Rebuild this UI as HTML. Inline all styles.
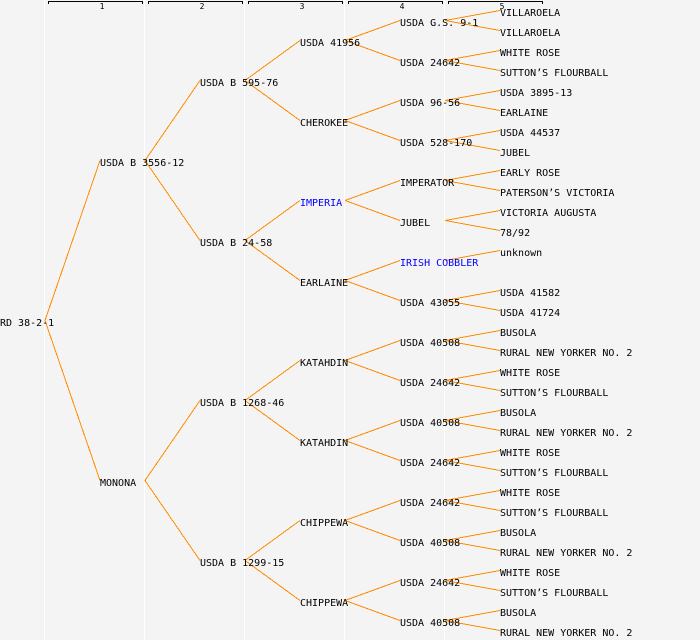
<!DOCTYPE html>
<html>
<head>
<meta charset="utf-8">
<style>
html,body{margin:0;padding:0;background:#f4f4f4;}
svg{display:block;}
text{font-family:"DejaVu Sans Mono","Liberation Mono",monospace;font-size:10px;fill:#000;}
.lb{font-size:8px;}
.b{fill:#0000ff;}
.ln line{stroke:#ff8c00;stroke-width:1;}
</style>
</head>
<body>
<svg width="700" height="640" viewBox="0 0 700 640" xmlns="http://www.w3.org/2000/svg">
<rect x="0" y="0" width="700" height="640" fill="#f4f4f4"/>
<g fill="#ffffff">
<rect x="44" y="0" width="1" height="640"/>
<rect x="144" y="0" width="1" height="640"/>
<rect x="244" y="0" width="1" height="640"/>
<rect x="344" y="0" width="1" height="640"/>
<rect x="444" y="0" width="1" height="640"/>
</g>
<g stroke="#000" stroke-width="1" fill="none" shape-rendering="crispEdges">
<path d="M48.5 4V1.5H142.5V4"/>
<path d="M148.5 4V1.5H242.5V4"/>
<path d="M248.5 4V1.5H342.5V4"/>
<path d="M348.5 4V1.5H442.5V4"/>
<path d="M448.5 4V1.5H542.5V4"/>
</g>
<g text-anchor="middle">
<text class="lb" x="102" y="9">1</text>
<text class="lb" x="202" y="9">2</text>
<text class="lb" x="302" y="9">3</text>
<text class="lb" x="402" y="9">4</text>
<text class="lb" x="502" y="9">5</text>
</g>
<g class="ln" shape-rendering="crispEdges">
<!-- root -->
<line x1="45" y1="320.5" x2="100" y2="160.5"/>
<line x1="45" y1="320.5" x2="100" y2="480.5"/>
<!-- level1 -->
<line x1="145" y1="160.5" x2="200" y2="80.5"/>
<line x1="145" y1="160.5" x2="200" y2="240.5"/>
<line x1="145" y1="480.5" x2="200" y2="400.5"/>
<line x1="145" y1="480.5" x2="200" y2="560.5"/>
<!-- level2 -->
<line x1="245" y1="80.5" x2="300" y2="40.5"/>
<line x1="245" y1="80.5" x2="300" y2="120.5"/>
<line x1="245" y1="240.5" x2="300" y2="200.5"/>
<line x1="245" y1="240.5" x2="300" y2="280.5"/>
<line x1="245" y1="400.5" x2="300" y2="360.5"/>
<line x1="245" y1="400.5" x2="300" y2="440.5"/>
<line x1="245" y1="560.5" x2="300" y2="520.5"/>
<line x1="245" y1="560.5" x2="300" y2="600.5"/>
<!-- level3 -->
<line x1="345" y1="40.5" x2="400" y2="20.5"/>
<line x1="345" y1="40.5" x2="400" y2="60.5"/>
<line x1="345" y1="120.5" x2="400" y2="100.5"/>
<line x1="345" y1="120.5" x2="400" y2="140.5"/>
<line x1="345" y1="200.5" x2="400" y2="180.5"/>
<line x1="345" y1="200.5" x2="400" y2="220.5"/>
<line x1="345" y1="280.5" x2="400" y2="260.5"/>
<line x1="345" y1="280.5" x2="400" y2="300.5"/>
<line x1="345" y1="360.5" x2="400" y2="340.5"/>
<line x1="345" y1="360.5" x2="400" y2="380.5"/>
<line x1="345" y1="440.5" x2="400" y2="420.5"/>
<line x1="345" y1="440.5" x2="400" y2="460.5"/>
<line x1="345" y1="520.5" x2="400" y2="500.5"/>
<line x1="345" y1="520.5" x2="400" y2="540.5"/>
<line x1="345" y1="600.5" x2="400" y2="580.5"/>
<line x1="345" y1="600.5" x2="400" y2="620.5"/>
<!-- level4 -->
<line x1="445" y1="20.5" x2="500" y2="10.5"/>
<line x1="445" y1="20.5" x2="500" y2="30.5"/>
<line x1="445" y1="60.5" x2="500" y2="50.5"/>
<line x1="445" y1="60.5" x2="500" y2="70.5"/>
<line x1="445" y1="100.5" x2="500" y2="90.5"/>
<line x1="445" y1="100.5" x2="500" y2="110.5"/>
<line x1="445" y1="140.5" x2="500" y2="130.5"/>
<line x1="445" y1="140.5" x2="500" y2="150.5"/>
<line x1="445" y1="180.5" x2="500" y2="170.5"/>
<line x1="445" y1="180.5" x2="500" y2="190.5"/>
<line x1="445" y1="220.5" x2="500" y2="210.5"/>
<line x1="445" y1="220.5" x2="500" y2="230.5"/>
<line x1="445" y1="260.5" x2="500" y2="250.5"/>
<line x1="445" y1="300.5" x2="500" y2="290.5"/>
<line x1="445" y1="300.5" x2="500" y2="310.5"/>
<line x1="445" y1="340.5" x2="500" y2="330.5"/>
<line x1="445" y1="340.5" x2="500" y2="350.5"/>
<line x1="445" y1="380.5" x2="500" y2="370.5"/>
<line x1="445" y1="380.5" x2="500" y2="390.5"/>
<line x1="445" y1="420.5" x2="500" y2="410.5"/>
<line x1="445" y1="420.5" x2="500" y2="430.5"/>
<line x1="445" y1="460.5" x2="500" y2="450.5"/>
<line x1="445" y1="460.5" x2="500" y2="470.5"/>
<line x1="445" y1="500.5" x2="500" y2="490.5"/>
<line x1="445" y1="500.5" x2="500" y2="510.5"/>
<line x1="445" y1="540.5" x2="500" y2="530.5"/>
<line x1="445" y1="540.5" x2="500" y2="550.5"/>
<line x1="445" y1="580.5" x2="500" y2="570.5"/>
<line x1="445" y1="580.5" x2="500" y2="590.5"/>
<line x1="445" y1="620.5" x2="500" y2="610.5"/>
<line x1="445" y1="620.5" x2="500" y2="630.5"/>
</g>
<g>
<text x="0" y="326">RD 38-2-1</text>

<text x="100" y="166">USDA B 3556-12</text>
<text x="100" y="486">MONONA</text>

<text x="200" y="86">USDA B 595-76</text>
<text x="200" y="246">USDA B 24-58</text>
<text x="200" y="406">USDA B 1268-46</text>
<text x="200" y="566">USDA B 1299-15</text>

<text x="300" y="46">USDA 41956</text>
<text x="300" y="126">CHEROKEE</text>
<text x="300" y="206" class="b">IMPERIA</text>
<text x="300" y="286">EARLAINE</text>
<text x="300" y="366">KATAHDIN</text>
<text x="300" y="446">KATAHDIN</text>
<text x="300" y="526">CHIPPEWA</text>
<text x="300" y="606">CHIPPEWA</text>

<text x="400" y="26">USDA G.S. 9-1</text>
<text x="400" y="66">USDA 24642</text>
<text x="400" y="106">USDA 96-56</text>
<text x="400" y="146">USDA 528-170</text>
<text x="400" y="186">IMPERATOR</text>
<text x="400" y="226">JUBEL</text>
<text x="400" y="266" class="b">IRISH COBBLER</text>
<text x="400" y="306">USDA 43055</text>
<text x="400" y="346">USDA 40508</text>
<text x="400" y="386">USDA 24642</text>
<text x="400" y="426">USDA 40508</text>
<text x="400" y="466">USDA 24642</text>
<text x="400" y="506">USDA 24642</text>
<text x="400" y="546">USDA 40508</text>
<text x="400" y="586">USDA 24642</text>
<text x="400" y="626">USDA 40508</text>

<text x="500" y="16">VILLAROELA</text>
<text x="500" y="36">VILLAROELA</text>
<text x="500" y="56">WHITE ROSE</text>
<text x="500" y="76">SUTTON’S FLOURBALL</text>
<text x="500" y="96">USDA 3895-13</text>
<text x="500" y="116">EARLAINE</text>
<text x="500" y="136">USDA 44537</text>
<text x="500" y="156">JUBEL</text>
<text x="500" y="176">EARLY ROSE</text>
<text x="500" y="196">PATERSON’S VICTORIA</text>
<text x="500" y="216">VICTORIA AUGUSTA</text>
<text x="500" y="236">78/92</text>
<text x="500" y="256">unknown</text>
<text x="500" y="296">USDA 41582</text>
<text x="500" y="316">USDA 41724</text>
<text x="500" y="336">BUSOLA</text>
<text x="500" y="356">RURAL NEW YORKER NO. 2</text>
<text x="500" y="376">WHITE ROSE</text>
<text x="500" y="396">SUTTON’S FLOURBALL</text>
<text x="500" y="416">BUSOLA</text>
<text x="500" y="436">RURAL NEW YORKER NO. 2</text>
<text x="500" y="456">WHITE ROSE</text>
<text x="500" y="476">SUTTON’S FLOURBALL</text>
<text x="500" y="496">WHITE ROSE</text>
<text x="500" y="516">SUTTON’S FLOURBALL</text>
<text x="500" y="536">BUSOLA</text>
<text x="500" y="556">RURAL NEW YORKER NO. 2</text>
<text x="500" y="576">WHITE ROSE</text>
<text x="500" y="596">SUTTON’S FLOURBALL</text>
<text x="500" y="616">BUSOLA</text>
<text x="500" y="636">RURAL NEW YORKER NO. 2</text>
</g>
</svg>
</body>
</html>
